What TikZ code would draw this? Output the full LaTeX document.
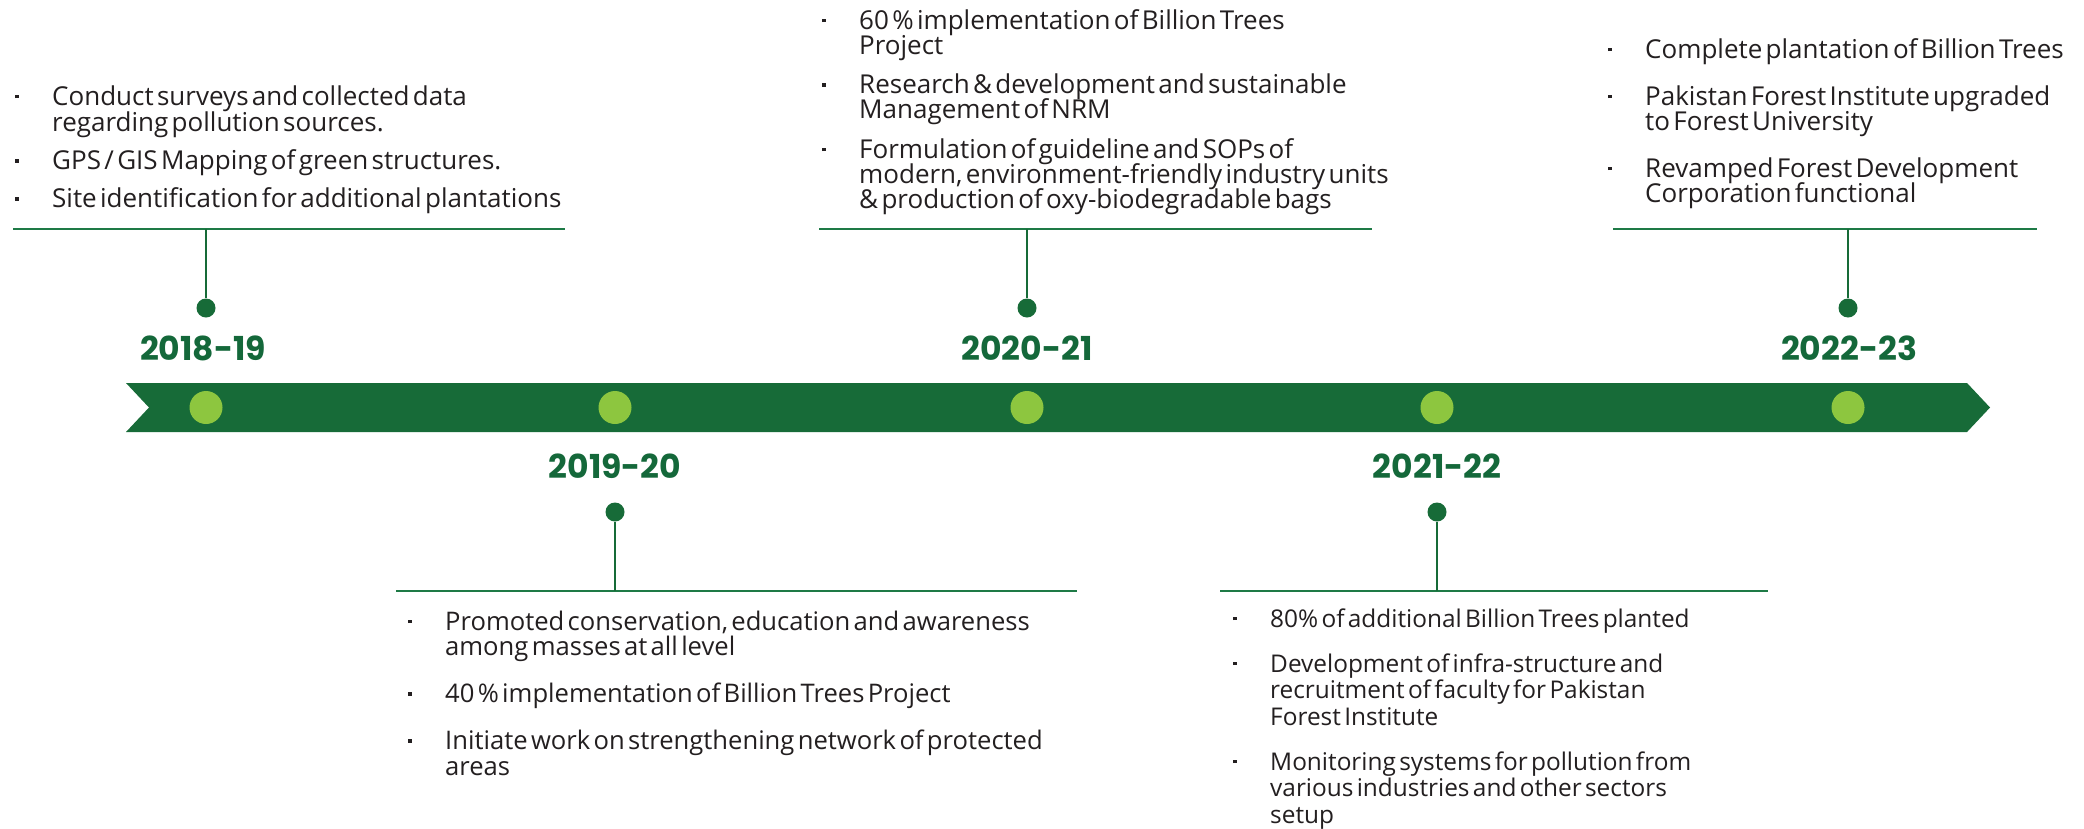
\documentclass[tikz,border=0pt]{standalone}
\usepackage{fontspec}
\setmainfont{Open Sans}
\newfontfamily\yearfont{Poppins}
\definecolor{bargreen}{HTML}{176B38}
\definecolor{dotgreen}{HTML}{8DC63F}
\definecolor{linegreen}{HTML}{1E7A46}
\definecolor{yeargreen}{HTML}{14683A}
\definecolor{txt}{HTML}{231F20}
\newcommand\bul{\makebox[37pt][l]{\raisebox{7pt}{\rule{3.5pt}{3.5pt}}}}
\newcommand\itm[1]{\noindent\bul\parbox[t]{700pt}{\raggedright\lineskiplimit=-100pt\rule{0pt}{21pt}#1\rule[-6.5pt]{0pt}{6.5pt}}\par}
\tikzset{
  grp/.style={anchor=north west, inner sep=0pt, text width=760pt, align=left, text=txt},
  yearlbl/.style={inner sep=0pt, text=yeargreen, font=\yearfont\bfseries\fontsize{33}{33}\selectfont},
  ldot/.style={circle, fill=dotgreen, inner sep=0pt, minimum size=33pt},
  ddot/.style={circle, fill=bargreen, inner sep=0pt, minimum size=19pt},
  hline/.style={draw=linegreen, line width=2.8pt},
  stem/.style={draw=bargreen, line width=2.5pt},
}
\newcommand\setgrp[2]{\setlength\parskip{0pt}\fontsize{#1}{#2}\selectfont\lineskiplimit=0pt\lineskip=0pt}
\begin{document}
\begin{tikzpicture}[x=1pt, y=-1pt]
\fill[white] (0,0) rectangle (2084,828);
\useasboundingbox (0,0) rectangle (2084,828);
% bar
\fill[bargreen] (126,383) -- (1967,383) -- (1990,407.5) -- (1967,432) -- (126,432) -- (149,407.5) -- cycle;
\node[ldot] (d1) at (206,407.5) {};
\node[ldot] (d2) at (615,407.5) {};
\node[ldot] (d3) at (1027,407.5) {};
\node[ldot] (d4) at (1437,407.5) {};
\node[ldot] (d5) at (1848,407.5) {};
% year labels
\node[yearlbl] (y1) at (203,348.5) {2018-19};
\node[yearlbl] (y3) at (1027,348.5) {2020-21};
\node[yearlbl] (y5) at (1849,348.5) {2022-23};
\node[yearlbl] (y2) at (615,466.5) {2019-20};
\node[yearlbl] (y4) at (1437,466.5) {2021-22};
% top connectors
\coordinate (l1a) at (13,229); \coordinate (l1b) at (565,229); \coordinate (s1) at (206,229);
\coordinate (l3a) at (819,229); \coordinate (l3b) at (1372,229); \coordinate (s3) at (1027,229);
\coordinate (l5a) at (1613,229); \coordinate (l5b) at (2037,229); \coordinate (s5) at (1848,229);
\node[ddot] (k1) at (206,308) {};
\node[ddot] (k3) at (1027,308) {};
\node[ddot] (k5) at (1848,308) {};
\draw[hline] (l1a) -- (l1b);
\draw[hline] (l3a) -- (l3b);
\draw[hline] (l5a) -- (l5b);
\draw[stem] (s1) -- (k1);
\draw[stem] (s3) -- (k3);
\draw[stem] (s5) -- (k5);
% bottom connectors
\coordinate (l2a) at (396,591); \coordinate (l2b) at (1077,591); \coordinate (s2) at (615,591);
\coordinate (l4a) at (1220,591); \coordinate (l4b) at (1768,591); \coordinate (s4) at (1437,591);
\node[ddot] (k2) at (615,512) {};
\node[ddot] (k4) at (1437,512) {};
\draw[hline] (l2a) -- (l2b);
\draw[hline] (l4a) -- (l4b);
\draw[stem] (s2) -- (k2);
\draw[stem] (s4) -- (k4);
% texts
\node[grp] (t1) at (15,84) {\setgrp{26}{26.5}%
\itm{Conduct surveys and collected data\\regarding pollution sources.}\vspace{10.5pt}
\itm{GPS / GIS Mapping of green structures.}\vspace{10.5pt}
\itm{Site identification for additional plantations}};
\node[grp] (t3) at (822,8) {\setgrp{26}{25}%
\itm{60 \% implementation of Billion Trees\\Project}\vspace{12pt}
\itm{Research \& development and sustainable\\Management of NRM}\vspace{12pt}
\itm{Formulation of guideline and SOPs of\\modern, environment-friendly industry units\\\& production of oxy-biodegradable bags}};
\node[grp] (t5) at (1608,37) {\setgrp{26}{25}%
\itm{Complete plantation of Billion Trees}\vspace{19.5pt}
\itm{Pakistan Forest Institute upgraded\\to Forest University}\vspace{19.5pt}
\itm{Revamped Forest Development\\Corporation functional}};
\node[grp] (t2) at (408,609) {\setgrp{25.6}{25.5}%
\itm{Promoted conservation, education and awareness\\among masses at all level}\vspace{19.5pt}
\itm{40 \% implementation of Billion Trees Project}\vspace{19.5pt}
\itm{Initiate work on strengthening network of protected\\areas}};
\node[grp] (t4) at (1233,606) {\setgrp{24.4}{26.5}%
\itm{80\% of additional Billion Trees planted}\vspace{17.5pt}
\itm{Development of infra-structure and\\recruitment of faculty for Pakistan\\Forest Institute}\vspace{17.5pt}
\itm{Monitoring systems for pollution from\\various industries and other sectors\\setup}};
\end{tikzpicture}
\end{document}
